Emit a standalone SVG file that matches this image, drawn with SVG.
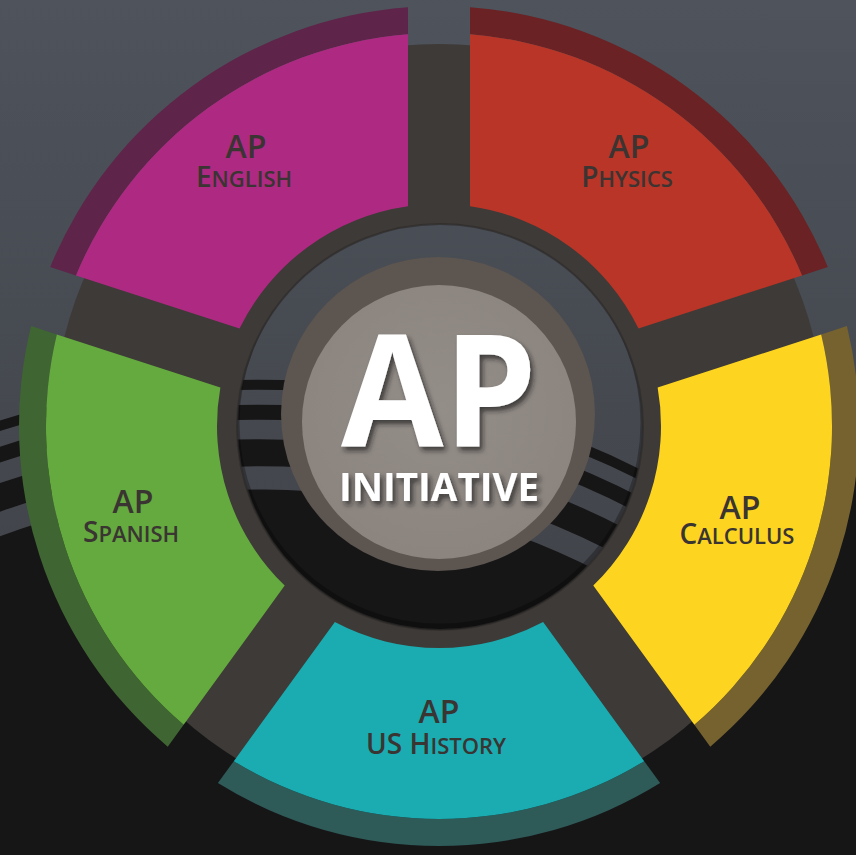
<svg xmlns="http://www.w3.org/2000/svg" width="856" height="855" viewBox="0 0 856 855">
<defs>
  <style>
    .lbl{font-family:"Open Sans","Liberation Sans",sans-serif;font-weight:600;fill:#3a3432;text-anchor:middle}
    .big{font-family:"Open Sans","Liberation Sans",sans-serif;font-weight:700;fill:#ffffff;text-anchor:middle}
    .stripe{fill:none;stroke:#171617;stroke-linecap:butt}
  </style>
  <linearGradient id="bgGrad" x1="0" y1="0" x2="0" y2="1">
    <stop offset="0" stop-color="#4e535c"/>
    <stop offset="0.6" stop-color="#43464c"/>
    <stop offset="1" stop-color="#3a3c40"/>
  </linearGradient>
  <radialGradient id="lightGrad" cx="0.5" cy="0.45" r="0.6">
    <stop offset="0" stop-color="#948e89"/>
    <stop offset="1" stop-color="#8a837e"/>
  </radialGradient>
  <clipPath id="ringClip"><circle cx="440" cy="427" r="203"/></clipPath>
  <filter id="txtShadow" x="-20%" y="-20%" width="140%" height="150%">
    <feDropShadow dx="3" dy="4" stdDeviation="2.5" flood-color="#1a1a1a" flood-opacity="0.7"/>
  </filter>
  <g id="bgArt">
    <rect x="0" y="0" width="856" height="855" fill="url(#bgGrad)"/>
    <path d="M-10,540 A743,743 0 0 1 700,634 L870,400 L870,870 L-10,870 Z" fill="#171617"/>
    <path class="stripe" stroke-width="10" d="M-10,429 A848,848 0 0 1 700,508"/>
    <path class="stripe" stroke-width="15" d="M-10,458 A820.5,820.5 0 0 1 700,540"/>
    <path class="stripe" stroke-width="27" d="M-10,501 A779.5,779.5 0 0 1 700,589"/>
  </g>
  <path id="segMain" d="M470,206.18 L470,34.22 A393,393 0 0 1 802.03,275.45 L638.48,328.59 A222,222 0 0 0 470,206.18 Z"/>
  <path id="segLip" d="M470,34.22 L470,7.15 A420,420 0 0 1 827.77,267.09 L802.03,275.45 A393,393 0 0 0 470,34.22 Z"/>
</defs>

<use href="#bgArt"/>

<circle id="backplate" cx="439" cy="430" r="386" fill="#3e3a37"/>

<g id="ring" clip-path="url(#ringClip)">
  <use href="#bgArt"/>
  <circle cx="440" cy="423" r="205" fill="none" stroke="#000" stroke-opacity="0.28" stroke-width="9"/>
</g>
<circle cx="440" cy="427" r="203" fill="none" stroke="#2e2b29" stroke-opacity="0.7" stroke-width="2"/>

<g id="center">
  <circle cx="438" cy="414" r="157" fill="#5c5550"/>
  <circle cx="439" cy="422" r="137" fill="url(#lightGrad)"/>
  <g filter="url(#txtShadow)">
    <text class="big" x="439" y="447" font-size="156" textLength="196" lengthAdjust="spacingAndGlyphs">AP</text>
    <text class="big" x="439" y="501" font-size="40" textLength="200" lengthAdjust="spacingAndGlyphs">INITIATIVE</text>
  </g>
</g>

<g id="physics">
  <use href="#segLip" fill="#6a2224"/>
  <use href="#segMain" fill="#b83527"/>
  <text class="lbl" x="629" y="158" font-size="32">AP</text>
  <text class="lbl" x="627" y="187"><tspan font-size="28">P</tspan><tspan font-size="22">HYSICS</tspan></text>
</g>

<g id="calculus">
  <use href="#segLip" fill="#75622f" transform="rotate(72 439 426)"/>
  <use href="#segMain" fill="#fdd521" transform="rotate(72 439 426)"/>
  <text class="lbl" x="740" y="519" font-size="32">AP</text>
  <text class="lbl" x="737" y="544"><tspan font-size="28">C</tspan><tspan font-size="22">ALCULUS</tspan></text>
</g>

<g id="us-history">
  <use href="#segLip" fill="#2e5a58" transform="rotate(144 439 426)"/>
  <use href="#segMain" fill="#1aacb0" transform="rotate(144 439 426)"/>
  <text class="lbl" x="439" y="723" font-size="32">AP</text>
  <text class="lbl" x="436" y="754"><tspan font-size="28">US H</tspan><tspan font-size="22">ISTORY</tspan></text>
</g>

<g id="spanish">
  <use href="#segLip" fill="#3f6632" transform="rotate(216 439 426)"/>
  <use href="#segMain" fill="#64aa3e" transform="rotate(216 439 426)"/>
  <text class="lbl" x="133" y="513" font-size="32">AP</text>
  <text class="lbl" x="131" y="542"><tspan font-size="28">S</tspan><tspan font-size="22">PANISH</tspan></text>
</g>

<g id="english">
  <use href="#segLip" fill="#5e2449" transform="rotate(288 439 426)"/>
  <use href="#segMain" fill="#ae2a82" transform="rotate(288 439 426)"/>
  <text class="lbl" x="246" y="158" font-size="32">AP</text>
  <text class="lbl" x="244" y="187"><tspan font-size="28">E</tspan><tspan font-size="22">NGLISH</tspan></text>
</g>

<g id="connectors"/>
</svg>
